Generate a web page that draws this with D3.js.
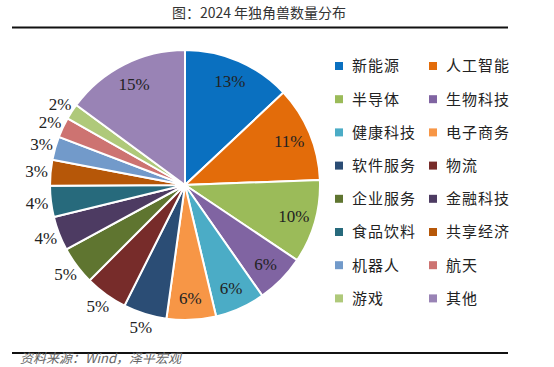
<!DOCTYPE html>
<html><head><meta charset="utf-8">
<script src="https://cdn.jsdelivr.net/npm/d3@7"></script>
<style>body{margin:0;background:#fff;}</style>
</head><body>
<svg id="c" width="554" height="367"></svg>
<script>
const categories = ["新能源","人工智能","半导体","生物科技","健康科技","电子商务","软件服务","物流","企业服务","金融科技","食品饮料","共享经济","机器人","航天","游戏","其他"];
const values = [13.0,11.4,10.0,5.9,6.0,5.9,5.2,5.1,4.6,4.1,3.7,3.1,2.8,2.4,1.9,14.9];
const colors = ["#0a70c0","#e36c0a","#9bbb59","#8064a2","#4bacc6","#f79646","#2b4d75","#772c2a","#5f7530","#4d3b62","#276a7c","#b65708","#729aca","#cd7371","#afc97a","#9983b5"];
const outside = [false,false,false,false,false,false,true,true,true,true,true,true,true,true,true,false];
const titleText = "图：2024 年独角兽数量分布";
const sourceText = "资料来源：Wind，泽平宏观";

const svg = d3.select("#c");
const cx = 185, cy = 185, R = 135;

svg.append("text").attr("x",259).attr("y",18).attr("text-anchor","middle")
  .attr("font-family","'Noto Sans CJK SC'").attr("font-size",14).attr("fill","#333").text(titleText);
svg.append("line").attr("x1",12).attr("x2",508).attr("y1",27.5).attr("y2",27.5).attr("stroke","#111").attr("stroke-width",2);
svg.append("line").attr("x1",12).attr("x2",508).attr("y1",353).attr("y2",353).attr("stroke","#111").attr("stroke-width",2);
svg.append("text").attr("x",20).attr("y",363).attr("font-family","'Noto Sans CJK SC'").attr("font-style","italic")
  .attr("font-size",13).attr("fill","#666").text(sourceText);

const pie = d3.pie().sort(null).value(d=>d)(values);
const arc = d3.arc().innerRadius(0).outerRadius(R);
const g = svg.append("g").attr("transform",`translate(${cx},${cy})`);
g.selectAll("path").data(pie).join("path")
  .attr("d",arc).attr("fill",(d,i)=>colors[i]).attr("stroke","#fff").attr("stroke-width",2);

const inArc = d3.arc().innerRadius(113).outerRadius(113);
const outArc = d3.arc().innerRadius(149).outerRadius(149);
const fmt = v => Math.round(v) + "%";
g.selectAll("text.lbl").data(pie).join("text").attr("class","lbl")
  .attr("transform",(d,i)=>`translate(${(outside[i]?outArc:inArc).centroid(d)})`)
  .attr("text-anchor","middle").attr("dy","0.35em")
  .attr("font-family","'Liberation Serif'").attr("font-size",17).attr("fill","#222")
  .text(d=>fmt(d.data));

const leg = svg.append("g");
categories.forEach((c,i)=>{
  const col = i%2, row = Math.floor(i/2);
  const x = 335 + col*94, y = 66 + row*33.2;
  leg.append("rect").attr("x",x).attr("y",y-4).attr("width",8).attr("height",8).attr("fill",colors[i]);
  leg.append("text").attr("x",x+17).attr("y",y).attr("dy","0.36em")
    .attr("font-family","'Noto Sans CJK SC'").attr("font-size",15).attr("letter-spacing",1)
    .attr("fill","#222").text(c);
});
</script>
</body></html>
